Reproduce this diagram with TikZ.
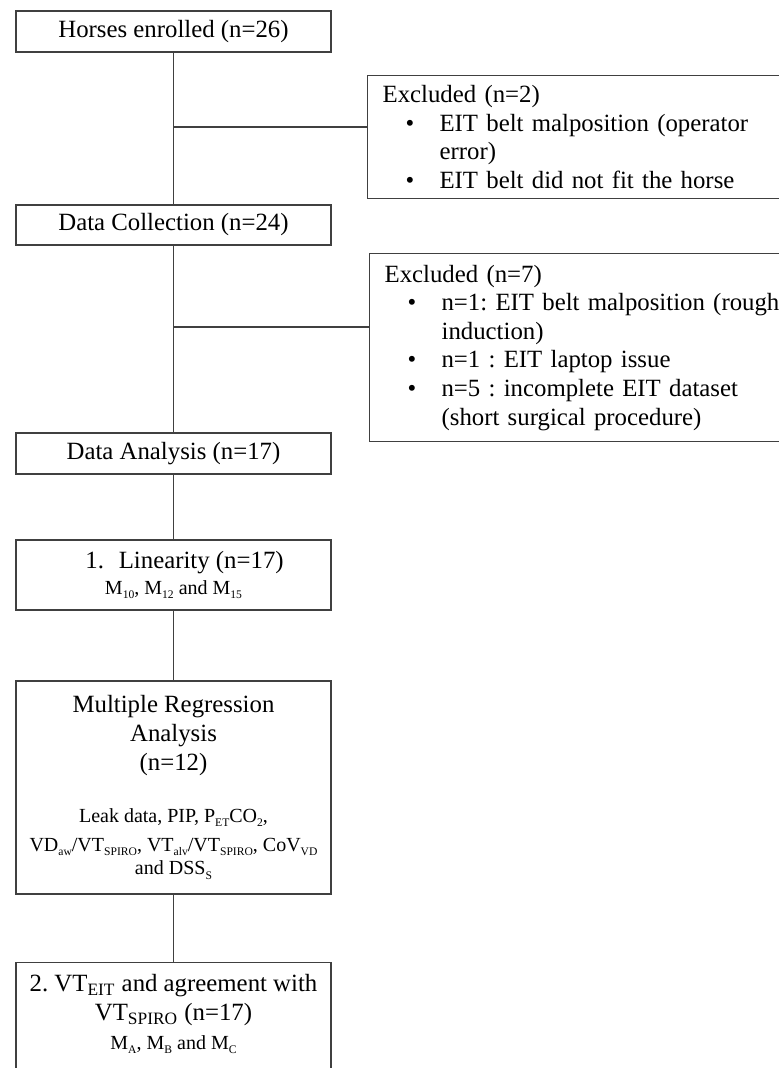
\documentclass[tikz,border=0pt]{standalone}
\usepackage{fontspec}
\setmainfont{Liberation Serif}
\frenchspacing
\tikzset{
  stage/.style={draw=black!75, line width=0.6pt, minimum width=157.5pt, inner sep=0pt, align=center, font=\fontsize{12.4}{14.4}\selectfont},
  excl/.style={draw=black!75, line width=0.6pt, anchor=north west, text width=200pt, inner xsep=7.5pt, inner ysep=0pt, align=left, font=\fontsize{12.4}{14.3}\selectfont},
  link/.style={draw=black!75, line width=0.6pt},
}
\newcommand\bul{\hspace*{11.5pt}\makebox[17pt][l]{\textbullet}}
\newcommand\cont{\hspace*{28.5pt}}
\newcommand\detail{\fontsize{10}{12.5}\selectfont}
\newcommand\dsub[1]{\raisebox{-0.45ex}{\fontsize{5.8}{6}\selectfont#1}}
\begin{document}
\begin{tikzpicture}[x=0.5pt,y=-0.5pt]
\useasboundingbox (0,0) rectangle (779,1068);
\clip (0,0) rectangle (779,1068);
\node[stage, minimum height=20.5pt] (horses) at (173.5,31.5) {Horses enrolled (n=26)};
\node[excl, minimum height=61.5pt] (excl1) at (367,75) {Excluded (n=2)\\ \bul EIT belt malposition (operator\\ \cont error)\\ \bul EIT belt did not fit the horse};
\node[stage, minimum height=20pt] (collect) at (173.5,225) {Data Collection (n=24)};
\node[excl, minimum height=94pt] (excl2) at (369,253) {Excluded (n=7)\\ \bul n=1: EIT belt malposition (rough\\ \cont induction)\\ \bul n=1 : EIT laptop issue\\ \bul n=5 : incomplete EIT dataset\\ \cont (short surgical procedure)};
\node[stage, minimum height=20.5pt] (analysis) at (173.5,453.5) {Data Analysis (n=17)};
\node[stage, minimum height=35pt] (linear) at (173.5,575) {\hspace*{11pt}1.\hspace{0.6em}Linearity (n=17)\\[-1.5pt] {\detail M\dsub{10}, M\dsub{12} and M\dsub{15}}};
\node[stage, minimum height=106.5pt] (regress) at (173.5,787.5) {Multiple Regression\\ Analysis\\ (n=12)\\[11.5pt] {\detail Leak data, PIP, P\dsub{ET}CO\dsub{2},}\\ {\detail VD\dsub{aw}/VT\dsub{SPIRO}, VT\dsub{alv}/VT\dsub{SPIRO}, CoV\dsub{VD}}\\[-2.5pt] {\detail and DSS\dsub{S}}};
\node[stage, anchor=north, inner ysep=6pt] (agree) at (173.5,962) {2. VT\textsubscript{EIT} and agreement with\\ VT\textsubscript{SPIRO} (n=17)\\ {\detail M\dsub{A}, M\dsub{B} and M\dsub{C}\rule[-25pt]{0pt}{0pt}}};
\coordinate (j1) at (173.5,127);
\coordinate (j2) at (173.5,327);
\draw[link] (horses) -- (collect);
\draw[link] (j1) -- (j1 -| excl1.west);
\draw[link] (collect) -- (analysis);
\draw[link] (j2) -- (j2 -| excl2.west);
\draw[link] (analysis) -- (linear);
\draw[link] (linear) -- (regress);
\draw[link] (regress) -- (agree);
\end{tikzpicture}
\end{document}
